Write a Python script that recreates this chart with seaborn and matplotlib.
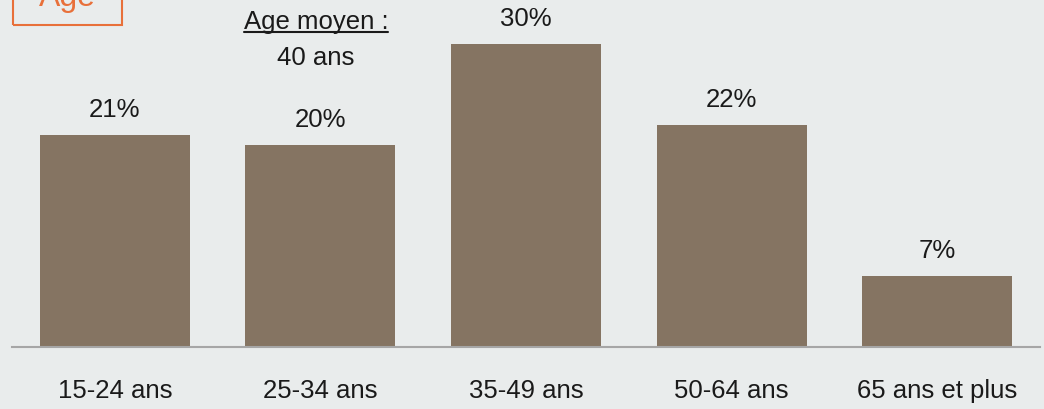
import matplotlib
matplotlib.use("Agg")
import matplotlib.pyplot as plt
import seaborn as sns
import pandas as pd
from matplotlib.patches import Rectangle
from matplotlib.lines import Line2D

categories = ["15-24 ans", "25-34 ans", "35-49 ans", "50-64 ans", "65 ans et plus"]
values = [21, 20, 30, 22, 7]
value_labels = ["21%", "20%", "30%", "22%", "7%"]
title_label = "Age"
note_title = "Age moyen :"
note_value = "40 ans"

BG = "#E9ECEC"
BAR = "#857462"
ORANGE = "#E8703A"
TXT = "#1A1A1A"

sns.set_theme(style="white")
plt.rcParams["font.family"] = ["Liberation Sans", "DejaVu Sans"]

W, H = 1044, 409
fig = plt.figure(figsize=(W / 100, H / 100), dpi=100, facecolor=BG)
ax = fig.add_axes([12 / W, (H - 347) / H, 1028 / W, 347 / H])
ax.set_facecolor(BG)

df = pd.DataFrame({"cat": categories, "val": values})
sns.barplot(data=df, x="cat", y="val", color=BAR, saturation=1, width=0.73,
            linewidth=0, edgecolor=BAR, ax=ax)

ax.set_xlim(-0.5, 4.5)
ax.set_ylim(0, 34.36)
for s in ["top", "right", "left"]:
    ax.spines[s].set_visible(False)
ax.spines["bottom"].set_color("#A6A6A6")
ax.spines["bottom"].set_linewidth(1.5)
ax.spines["bottom"].set_zorder(5)
ax.set_yticks([])
ax.set_xlabel("")
ax.set_ylabel("")
ax.tick_params(axis="x", length=0, pad=23, labelsize=18.5, labelcolor=TXT)

for i, (v, lab) in enumerate(zip(values, value_labels)):
    ax.annotate(lab, xy=(i, v), xytext=(0, 13), textcoords="offset points",
                ha="center", va="baseline", fontsize=18.5, color=TXT)

# Note "Age moyen : 40 ans"
t1 = fig.text(316 / W, 1 - 29 / H, note_title, ha="center", va="baseline",
              fontsize=18.5, color=TXT)
fig.text(316 / W, 1 - 65 / H, note_value, ha="center", va="baseline",
         fontsize=18.5, color=TXT)
fig.canvas.draw()
bb = t1.get_window_extent()
uy = (H - 32) / H
fig.add_artist(Line2D([bb.x0 / W, bb.x1 / W], [uy, uy], transform=fig.transFigure,
                      color=TXT, linewidth=1.5))

# "Age" boxed title (partially cut off at top, as in the reference)
fig.text(67 / W, 1 - 6 / H, title_label, ha="center", va="baseline",
         fontsize=23, color=ORANGE)
fig.add_artist(Rectangle((13 / W, (H - 25) / H), 109 / W, 60 / H,
                         transform=fig.transFigure, fill=False,
                         edgecolor=ORANGE, linewidth=1.5))

fig.savefig("out.png", dpi=100, facecolor=BG)
